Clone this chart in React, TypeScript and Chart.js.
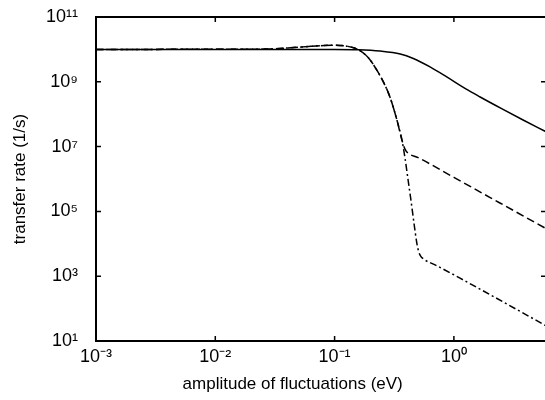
import React, { useEffect, useRef } from 'react';
import { Chart, registerables } from 'chart.js';

Chart.register(...registerables);

// ---- data ----
const solidX = [0.001, 0.1, 0.158, 0.24, 0.355, 0.457, 0.631, 0.871, 1.259, 1.66, 2.512, 3.802, 5.916];
const solidY = [1e10, 1e10, 9.77e9, 8.91e9, 7.24e9, 5.25e9, 2.88e9, 1.41e9, 6.03e8, 3.39e8, 1.48e8, 6.61e7, 2.88e7];

const dashedX = [0.001, 0.0251, 0.0501, 0.1, 0.126, 0.155, 0.191, 0.226, 0.26, 0.291, 0.333, 0.367, 0.389, 0.412, 0.501, 1.0, 2.432, 5.916];
const dashedY = [1e10, 1.02e10, 1.17e10, 1.35e10, 1.26e10, 1.02e10, 5.62e9, 2.29e9, 8.91e8, 3.39e8, 6.61e7, 1.58e7, 8.32e6, 6.31e6, 4.57e6, 1.12e6, 1.82e5, 2.95e4];

const dashDotX = [0.001, 0.0251, 0.0501, 0.1, 0.126, 0.155, 0.191, 0.226, 0.26, 0.291, 0.333, 0.367, 0.389, 0.412, 0.437, 0.462, 0.49, 0.507, 0.525, 0.562, 0.695, 1.125, 5.916];
const dashDotY = [1e10, 1.02e10, 1.17e10, 1.35e10, 1.26e10, 1.02e10, 5.62e9, 2.29e9, 8.91e8, 3.39e8, 6.61e7, 1.58e7, 4.47e6, 1.0e6, 2.14e5, 4.57e4, 1.0e4, 5.75e3, 4.27e3, 3.31e3, 2.24e3, 871, 29.5];

const xTickValues = [1e-3, 1e-2, 1e-1, 1e0];
const yTickValues = [1e1, 1e3, 1e5, 1e7, 1e9, 1e11];

const X_MIN = 1e-3;
const X_MAX = 5.916;
const Y_MIN = 1e1;
const Y_MAX = 1e11;

const xTitle = 'amplitude of fluctuations (eV)';
const yTitle = 'transfer rate (1/s)';

const FONT = 'Liberation Sans, Arial, Helvetica, sans-serif';

const SUP: Record<string, string> = {
  '0': '\u2070', '1': '\u00B9', '2': '\u00B2', '3': '\u00B3', '4': '\u2074',
  '5': '\u2075', '6': '\u2076', '7': '\u2077', '8': '\u2078', '9': '\u2079', '-': '\u207B',
};
const sup = (n: number) => String(n).split('').map((c) => SUP[c] ?? c).join('');
const powLabel = (v: number) => '10' + sup(Math.round(Math.log10(v)));

const pts = (xs: number[], ys: number[]) => xs.map((x, i) => ({ x, y: ys[i] }));

const framePlugin = {
  id: 'frame',
  afterDatasetsDraw(chart: any) {
    const { ctx, chartArea, scales } = chart;
    const { left, right, top, bottom } = chartArea;
    ctx.save();
    ctx.strokeStyle = '#000';
    ctx.lineWidth = 2;
    ctx.strokeRect(left, top, right - left, bottom - top);
    ctx.lineWidth = 1.5;
    const tl = 5;
    ctx.beginPath();
    for (const v of yTickValues) {
      const y = scales.y.getPixelForValue(v);
      if (y > top + 2 && y < bottom - 2) {
        ctx.moveTo(left, y); ctx.lineTo(left + tl, y);
        ctx.moveTo(right, y); ctx.lineTo(right - tl, y);
      }
    }
    for (const v of xTickValues) {
      const x = scales.x.getPixelForValue(v);
      if (x > left + 2 && x < right - 2) {
        ctx.moveTo(x, bottom); ctx.lineTo(x, bottom - tl);
        ctx.moveTo(x, top); ctx.lineTo(x, top + tl);
      }
    }
    ctx.stroke();
    ctx.restore();
  },
};

const zeroPad = (s: any) => { s.paddingTop = 0; s.paddingBottom = 0; s.paddingLeft = 0; s.paddingRight = 0; };

export default function App() {
  const ref = useRef<HTMLCanvasElement | null>(null);

  useEffect(() => {
    if (!ref.current) return;
    const common = {
      fill: false,
      borderColor: '#000',
      borderWidth: 1.5,
      pointRadius: 0,
      cubicInterpolationMode: 'monotone' as const,
    };
    const chart = new Chart(ref.current, {
      type: 'line',
      data: {
        datasets: [
          { ...common, label: 'solid', data: pts(solidX, solidY) },
          { ...common, label: 'dashed', data: pts(dashedX, dashedY), borderDash: [8, 4] },
          { ...common, label: 'dash-dot', data: pts(dashDotX, dashDotY), borderDash: [7, 3, 2, 3] },
        ],
      },
      options: {
        responsive: false,
        animation: false,
        layout: { padding: { top: 17, right: 2, left: 0, bottom: 0 } },
        plugins: { legend: { display: false }, tooltip: { enabled: false } },
        scales: {
          x: {
            type: 'logarithmic',
            min: X_MIN,
            max: X_MAX,
            afterBuildTicks: (s: any) => { s.ticks = xTickValues.map((v) => ({ value: v })); },
            afterFit: (s: any) => { s.height = 59; zeroPad(s); },
            grid: { display: false, drawTicks: false },
            border: { display: false },
            ticks: {
              autoSkip: false, maxRotation: 0, minRotation: 0, padding: 5, color: '#000',
              font: { family: FONT, size: 18 },
              callback: (v: any) => powLabel(Number(v)),
            },
            title: {
              display: true, text: xTitle + '            ', color: '#000',
              font: { family: FONT, size: 17 }, padding: { top: 0, bottom: 5 },
            },
          },
          y: {
            type: 'logarithmic',
            min: Y_MIN,
            max: Y_MAX,
            afterBuildTicks: (s: any) => { s.ticks = yTickValues.map((v) => ({ value: v })); },
            afterFit: (s: any) => { s.width = 96; zeroPad(s); },
            grid: { display: false, drawTicks: false },
            border: { display: false },
            ticks: {
              autoSkip: false, padding: 18, color: '#000',
              font: { family: FONT, size: 18 },
              callback: (v: any) => powLabel(Number(v)),
            },
            title: {
              display: true, text: yTitle, color: '#000',
              font: { family: FONT, size: 17 }, padding: { top: 10, bottom: 0 },
            },
          },
        },
      },
      plugins: [framePlugin],
    });
    return () => chart.destroy();
  }, []);

  return (
    <div style={{ position: 'fixed', left: 0, top: 0, width: 545, height: 400, overflow: 'hidden', background: '#fff' }}>
      <canvas ref={ref} width={548} height={400} style={{ display: 'block' }} />
    </div>
  );
}
